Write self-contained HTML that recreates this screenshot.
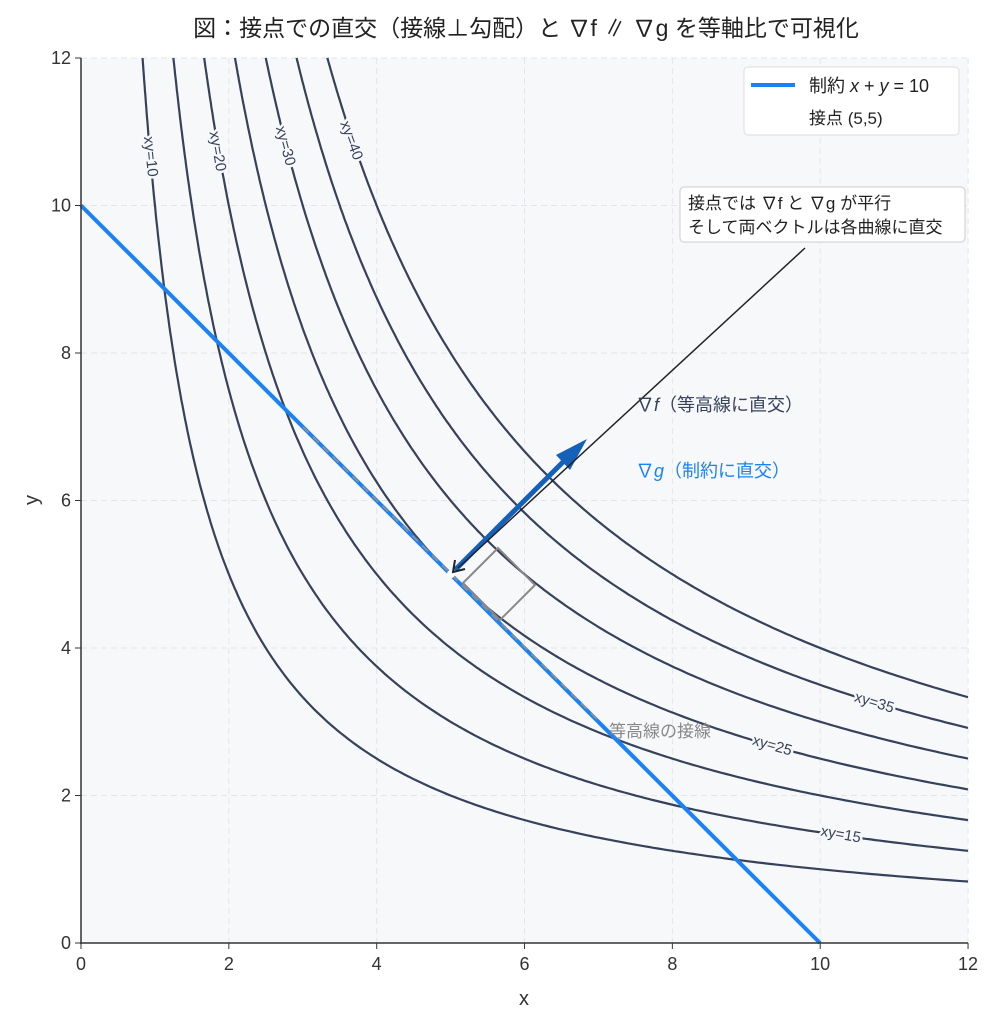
<!DOCTYPE html>
<html><head><meta charset="utf-8"><style>
body{margin:0;background:#fff}
svg text{font-family:"Liberation Sans","Noto Sans CJK JP",sans-serif}
</style></head><body>
<svg id="s" width="1003" height="1024" xmlns="http://www.w3.org/2000/svg">
<rect width="1003" height="1024" fill="#fff"/>
<rect x="81" y="58" width="887" height="885" fill="#f7f8fa"/>
<g id="grid" stroke="#e3e5ea" stroke-dasharray="6,4" stroke-width="1"></g>
<g id="curves" fill="none" stroke="#36425a" stroke-width="2.2"></g>
<line x1="81" y1="205.5" x2="820" y2="943" stroke="#1a82f7" stroke-width="4"/>
<line x1="303" y1="427" x2="600" y2="722" stroke="#8a8f99" stroke-width="2" stroke-dasharray="8,6"/>
<polygon points="463,583 498,548 535,585 500,620" fill="none" stroke="#888" stroke-width="2"/>
<circle cx="451" cy="574" r="4" fill="#fff"/>
<line x1="455" y1="570" x2="568" y2="457" stroke="#1560b8" stroke-width="5"/>
<polygon points="587,439 556,455 570,470" fill="#1560b8"/>
<line x1="805" y1="248" x2="458" y2="568" stroke="#222" stroke-width="1.5"/>
<polyline points="455,560 453,572 465,569" fill="none" stroke="#222" stroke-width="2"/>
<g font-size="15" fill="#36425a" stroke="#f7f8fa" stroke-width="5" paint-order="stroke">
<text transform="translate(146,157) rotate(84)" text-anchor="middle">xy=10</text>
<text transform="translate(213,152) rotate(80)" text-anchor="middle">xy=20</text>
<text transform="translate(281,147) rotate(75)" text-anchor="middle">xy=30</text>
<text transform="translate(347,142) rotate(70)" text-anchor="middle">xy=40</text>
<text transform="translate(873,707) rotate(17)" text-anchor="middle">xy=35</text>
<text transform="translate(771,750) rotate(16)" text-anchor="middle">xy=25</text>
<text transform="translate(840,839) rotate(10)" text-anchor="middle">xy=15</text>
</g>
<text x="660" y="737" font-size="17" fill="#888" text-anchor="middle">等高線の接線</text>
<text x="636" y="411" font-size="18" fill="#36425a">∇<tspan font-style="italic">f</tspan>（等高線に直交）</text>
<text x="636" y="477" font-size="18" fill="#1a82f7">∇<tspan font-style="italic">g</tspan>（制約に直交）</text>
<rect x="680" y="187" width="285" height="55" rx="4" fill="#fff" stroke="#ccc"/>
<text x="688" y="209" font-size="17" fill="#222">接点では ∇f と ∇g が平行</text>
<text x="688" y="233" font-size="17" fill="#222">そして両ベクトルは各曲線に直交</text>
<rect x="744" y="67" width="215" height="68" rx="4" fill="#fff" stroke="#ddd"/>
<line x1="751" y1="85" x2="795" y2="85" stroke="#1a82f7" stroke-width="4"/>
<text x="809" y="92" font-size="18" fill="#222">制約 <tspan font-style="italic">x</tspan> + <tspan font-style="italic">y</tspan> = 10</text>
<text x="809" y="124" font-size="17" fill="#222">接点 (5,5)</text>
<line x1="81" y1="58" x2="81" y2="944" stroke="#333" stroke-width="1.5"/>
<line x1="80" y1="943" x2="968" y2="943" stroke="#333" stroke-width="1.5"/>
<g id="ticks" font-size="18" fill="#333"></g>
<text x="524" y="1005" font-size="20" fill="#333" text-anchor="middle">x</text>
<text transform="translate(38,500) rotate(-90)" font-size="20" fill="#333" text-anchor="middle">y</text>
<text x="526" y="36" font-size="23" fill="#222" text-anchor="middle">図：接点での直交（接線⊥勾配）と ∇f ∥ ∇g を等軸比で可視化</text>
</svg>
<script>
var X=function(x){return 81+73.92*x},Y=function(y){return 943-73.75*y};
var ns="http://www.w3.org/2000/svg";
var g=document.getElementById('grid'),t=document.getElementById('ticks'),c=document.getElementById('curves');
for(var i=0;i<=12;i+=2){
 if(i>0){var l=document.createElementNS(ns,'line');l.setAttribute('x1',X(i));l.setAttribute('x2',X(i));l.setAttribute('y1',58);l.setAttribute('y2',943);g.appendChild(l);
 l=document.createElementNS(ns,'line');l.setAttribute('y1',Y(i));l.setAttribute('y2',Y(i));l.setAttribute('x1',81);l.setAttribute('x2',968);g.appendChild(l);}
 var a=document.createElementNS(ns,'text');a.setAttribute('x',X(i));a.setAttribute('y',970);a.setAttribute('text-anchor','middle');a.textContent=i;t.appendChild(a);
 a=document.createElementNS(ns,'text');a.setAttribute('x',71);a.setAttribute('y',Y(i)+6);a.setAttribute('text-anchor','end');a.textContent=i;t.appendChild(a);
 var k=document.createElementNS(ns,'line');k.setAttribute('x1',X(i));k.setAttribute('x2',X(i));k.setAttribute('y1',943);k.setAttribute('y2',949);k.setAttribute('stroke','#333');t.appendChild(k);
 k=document.createElementNS(ns,'line');k.setAttribute('y1',Y(i));k.setAttribute('y2',Y(i));k.setAttribute('x1',75);k.setAttribute('x2',81);k.setAttribute('stroke','#333');t.appendChild(k);
}
[10,15,20,25,30,35,40].forEach(function(C){
 var d='';var x0=C/12;
 for(var j=0;j<=300;j++){var x=x0+(12-x0)*Math.pow(j/300,2);d+=(j?'L':'M')+X(x).toFixed(1)+','+Y(C/x).toFixed(1);}
 var p=document.createElementNS(ns,'path');p.setAttribute('d',d);c.appendChild(p);
});
</script>
</body></html>
